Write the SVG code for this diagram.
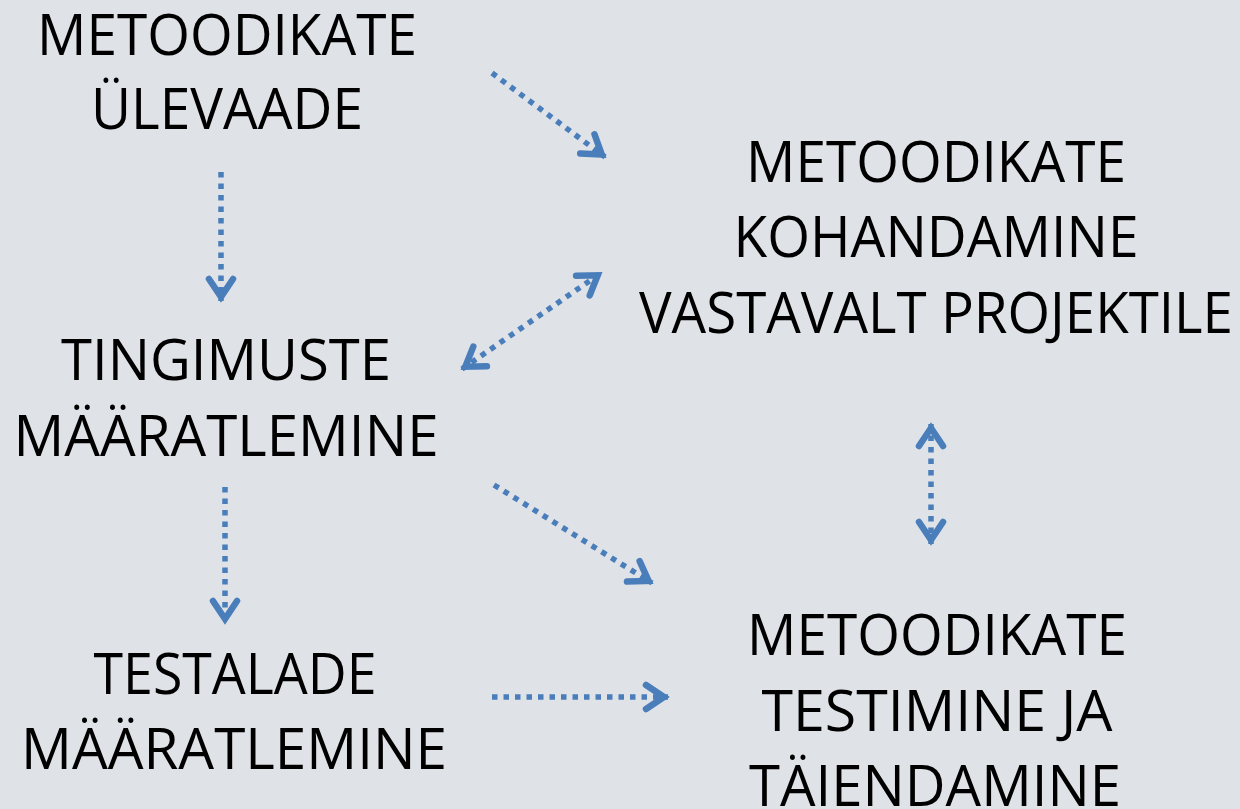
<svg xmlns="http://www.w3.org/2000/svg" width="1240" height="809" viewBox="0 0 1240 809">
<style>
.t{font-family:"Open Sans","Liberation Sans",sans-serif;font-size:56px;fill:#000;text-anchor:middle}
.c{fill:none;stroke:#4A7EBB;stroke-width:5.5;stroke-dasharray:5.5 6}
</style>
<defs>
<marker id="ah" markerUnits="userSpaceOnUse" viewBox="-30 -20 40 40" markerWidth="40" markerHeight="40" refX="0" refY="0" orient="auto-start-reverse" overflow="visible">
<path d="M-22,-12 L-4,0 L-22,12" fill="none" stroke="#4A7EBB" stroke-width="6.5" stroke-linecap="round" stroke-linejoin="miter"/>
</marker>
</defs>
<rect width="1240" height="809" fill="#DFE2E7"/>
<g id="connectors">
<line class="c" x1="492" y1="73" x2="605" y2="157" marker-end="url(#ah)"/>
<line class="c" x1="221" y1="172" x2="221" y2="301" marker-end="url(#ah)"/>
<line class="c" x1="462" y1="369" x2="601" y2="273" marker-start="url(#ah)" marker-end="url(#ah)"/>
<line class="c" x1="931" y1="424" x2="931" y2="544" marker-start="url(#ah)" marker-end="url(#ah)"/>
<line class="c" x1="494" y1="485" x2="652" y2="583" marker-end="url(#ah)"/>
<line class="c" x1="225" y1="487" x2="225" y2="623" marker-end="url(#ah)"/>
<line class="c" x1="492" y1="697" x2="668" y2="697" marker-end="url(#ah)"/>
</g>
<g id="n1">
<text class="t" x="227" y="55" textLength="380" lengthAdjust="spacingAndGlyphs">METOODIKATE</text>
<text class="t" x="227" y="129" textLength="272" lengthAdjust="spacingAndGlyphs">ÜLEVAADE</text>
</g>
<g id="n2">
<text class="t" x="226" y="380" textLength="330" lengthAdjust="spacingAndGlyphs">TINGIMUSTE</text>
<text class="t" x="226" y="456" textLength="425" lengthAdjust="spacingAndGlyphs">MÄÄRATLEMINE</text>
</g>
<g id="n3">
<text class="t" x="235" y="694" textLength="283" lengthAdjust="spacingAndGlyphs">TESTALADE</text>
<text class="t" x="234" y="769" textLength="426" lengthAdjust="spacingAndGlyphs">MÄÄRATLEMINE</text>
</g>
<g id="n4">
<text class="t" x="936" y="182" textLength="380" lengthAdjust="spacingAndGlyphs">METOODIKATE</text>
<text class="t" x="936" y="257" textLength="405" lengthAdjust="spacingAndGlyphs">KOHANDAMINE</text>
<text class="t" x="936" y="333" textLength="594" lengthAdjust="spacingAndGlyphs">VASTAVALT PROJEKTILE</text>
</g>
<g id="n5">
<text class="t" x="937" y="655" textLength="380" lengthAdjust="spacingAndGlyphs">METOODIKATE</text>
<text class="t" x="937" y="731" textLength="351" lengthAdjust="spacingAndGlyphs">TESTIMINE JA</text>
<text class="t" x="935" y="806" textLength="372" lengthAdjust="spacingAndGlyphs">TÄIENDAMINE</text>
</g>
</svg>
